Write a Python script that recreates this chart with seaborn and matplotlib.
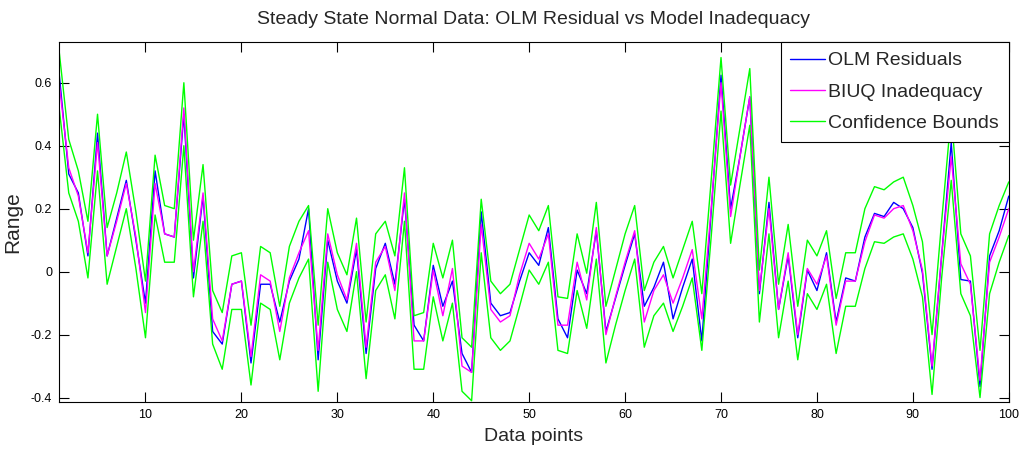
import pandas as pd
import matplotlib
matplotlib.use('Agg')
import matplotlib.pyplot as plt
import seaborn as sns
import numpy as np

# values, data points 1..100
data_points = np.arange(1, 101)

olm_residuals = [
    0.63, 0.31, 0.25, 0.05, 0.44, 0.05, 0.17, 0.29, 0.10, -0.10,
    0.32, 0.12, 0.11, 0.50, -0.02, 0.24, -0.19, -0.23, -0.04, -0.03,
    -0.29, -0.04, -0.04, -0.16, -0.03, 0.04, 0.20, -0.28, 0.10, -0.03,
    -0.10, 0.07, -0.26, 0.01, 0.09, -0.04, 0.23, -0.17, -0.22, 0.02,
    -0.11, -0.03, -0.26, -0.32, 0.19, -0.10, -0.14, -0.13, -0.03, 0.06,
    0.02, 0.14, -0.15, -0.21, 0.005, -0.07, 0.13, -0.19, -0.085, 0.02,
    0.12, -0.11, -0.05, 0.03, -0.15, -0.05, 0.04, -0.22, 0.20, 0.624,
    0.20, 0.37, 0.555, -0.07, 0.22, -0.12, 0.05, -0.21, 0.005, -0.06,
    0.06, -0.16, -0.02, -0.03, 0.11, 0.185, 0.175, 0.22, 0.20, 0.14,
    -0.005, -0.31, 0.05, 0.41, -0.025, -0.03, -0.365, 0.05, 0.13, 0.24,
]

biuq_inadequacy = [
    0.60, 0.33, 0.24, 0.06, 0.41, 0.05, 0.16, 0.28, 0.11, -0.13,
    0.28, 0.12, 0.11, 0.52, 0.00, 0.25, -0.15, -0.22, -0.04, -0.03,
    -0.27, -0.01, -0.03, -0.19, -0.02, 0.06, 0.13, -0.25, 0.12, -0.01,
    -0.09, 0.09, -0.24, 0.03, 0.08, -0.06, 0.25, -0.22, -0.22, 0.005,
    -0.14, 0.01, -0.30, -0.32, 0.15, -0.12, -0.16, -0.14, -0.01, 0.09,
    0.04, 0.12, -0.17, -0.17, 0.03, -0.09, 0.14, -0.20, -0.08, 0.03,
    0.13, -0.16, -0.06, -0.01, -0.10, -0.02, 0.07, -0.15, 0.21, 0.60,
    0.175, 0.37, 0.555, -0.06, 0.20, -0.12, 0.06, -0.20, 0.01, -0.04,
    0.05, -0.17, -0.03, -0.03, 0.095, 0.18, 0.17, 0.20, 0.21, 0.13,
    0.005, -0.30, 0.05, 0.365, 0.025, -0.04, -0.345, 0.03, 0.11, 0.20,
]

upper_bound = [
    0.70, 0.42, 0.32, 0.16, 0.50, 0.14, 0.25, 0.38, 0.19, -0.03,
    0.37, 0.21, 0.20, 0.60, 0.10, 0.34, -0.06, -0.13, 0.05, 0.06,
    -0.17, 0.08, 0.06, -0.11, 0.08, 0.16, 0.21, -0.17, 0.20, 0.06,
    -0.01, 0.17, -0.16, 0.12, 0.16, 0.05, 0.33, -0.14, -0.13, 0.09,
    -0.02, 0.10, -0.21, -0.24, 0.23, -0.03, -0.07, -0.04, 0.07, 0.18,
    0.13, 0.21, -0.08, -0.085, 0.12, -0.005, 0.22, -0.11, 0.005, 0.12,
    0.21, -0.06, 0.03, 0.08, -0.02, 0.07, 0.16, -0.07, 0.30, 0.68,
    0.275, 0.46, 0.645, 0.005, 0.30, -0.04, 0.15, -0.11, 0.10, 0.05,
    0.13, -0.085, 0.06, 0.06, 0.20, 0.27, 0.26, 0.285, 0.30, 0.21,
    0.095, -0.20, 0.16, 0.50, 0.12, 0.05, -0.25, 0.12, 0.21, 0.285,
]

lower_bound = [
    0.52, 0.25, 0.16, -0.02, 0.32, -0.04, 0.08, 0.20, 0.01, -0.21,
    0.18, 0.03, 0.03, 0.40, -0.08, 0.16, -0.23, -0.31, -0.12, -0.12,
    -0.36, -0.10, -0.12, -0.28, -0.10, -0.02, 0.04, -0.38, 0.03, -0.12,
    -0.19, 0.00, -0.34, -0.06, -0.01, -0.15, 0.16, -0.31, -0.31, -0.08,
    -0.22, -0.10, -0.38, -0.41, 0.06, -0.21, -0.25, -0.22, -0.11, 0.005,
    -0.04, 0.03, -0.25, -0.26, -0.06, -0.18, 0.04, -0.29, -0.17, -0.06,
    0.04, -0.24, -0.14, -0.10, -0.19, -0.11, -0.02, -0.25, 0.12, 0.51,
    0.09, 0.28, 0.465, -0.16, 0.12, -0.21, -0.03, -0.28, -0.07, -0.12,
    -0.04, -0.26, -0.11, -0.11, 0.01, 0.095, 0.09, 0.11, 0.12, 0.04,
    -0.08, -0.39, -0.02, 0.29, -0.07, -0.14, -0.40, -0.07, 0.03, 0.115,
]

df = pd.DataFrame({
    'point': data_points,
    'olm': olm_residuals,
    'biuq': biuq_inadequacy,
    'upper': upper_bound,
    'lower': lower_bound,
})

sns.set_style("ticks")
plt.rcParams['font.family'] = ['Liberation Sans', 'DejaVu Sans']

fig = plt.figure(figsize=(10.2, 4.53), dpi=100)
ax = fig.add_axes([0.058, 0.1126, 0.931, 0.7944])

sns.lineplot(data=df, x='point', y='olm', color='#0000ff', linewidth=1.0,
             label='OLM Residuals', ax=ax)
sns.lineplot(data=df, x='point', y='biuq', color='#ff00ff', linewidth=1.0,
             label='BIUQ Inadequacy', ax=ax)
sns.lineplot(data=df, x='point', y='upper', color='#00ff00', linewidth=1.0,
             label='Confidence Bounds', ax=ax)
sns.lineplot(data=df, x='point', y='lower', color='#00ff00', linewidth=1.0,
             ax=ax)

ax.set_xlim(1, 100)
ax.set_ylim(-0.414, 0.729)
ax.set_xticks(np.arange(10, 101, 10))
ax.set_yticks([-0.4, -0.2, 0, 0.2, 0.4, 0.6])
ax.set_yticklabels(['-0.4', '-0.2', '0', '0.2', '0.4', '0.6'])
ax.tick_params(direction='in', top=True, right=True, length=7, width=0.8,
               labelsize=9, colors='black', pad=5)
for sp in ax.spines.values():
    sp.set_color('black')
    sp.set_linewidth(0.8)

ax.set_title('Steady State Normal Data: OLM Residual vs Model Inadequacy',
             fontsize=14, pad=13)
ax.set_xlabel('Data points', fontsize=14, labelpad=5)
ax.set_ylabel('Range', fontsize=15, labelpad=6)

leg = ax.legend(loc='upper right', fontsize=14, frameon=True, fancybox=False,
                borderaxespad=0.0, handlelength=1.8, handletextpad=0.15,
                labelspacing=0.7, borderpad=0.5)
leg.get_frame().set_edgecolor('black')
leg.get_frame().set_linewidth(0.8)
leg.get_frame().set_alpha(1.0)

plt.savefig('out.png', dpi=100)
